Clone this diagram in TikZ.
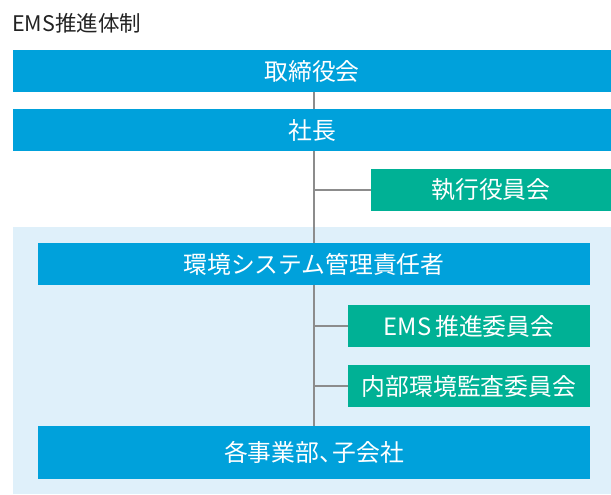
\documentclass[tikz,border=0pt]{standalone}
\usepackage{fontspec}
\setmainfont{Noto Sans CJK JP}
\definecolor{mainblue}{HTML}{00A1DB}
\definecolor{maingreen}{HTML}{00B195}
\definecolor{bgblue}{HTML}{DFF0FA}
\definecolor{linegray}{HTML}{8C8C8C}
\definecolor{titlegray}{HTML}{222222}
\tikzset{
  boxbase/.style={inner sep=0pt, text=white, font=\fontsize{23.8}{28}\selectfont, minimum height=42pt},
  bluebox/.style={boxbase, fill=mainblue},
  greenbox/.style={boxbase, fill=maingreen},
  conn/.style={draw=linegray, line width=1.5pt}
}
\begin{document}
\begin{tikzpicture}[x=1pt,y=-1pt]
\useasboundingbox (0,0) rectangle (611,495);
\fill[bgblue] (13,227) rectangle (611,494);
\node[anchor=west, text=titlegray, font=\fontsize{21.5}{26}\selectfont, inner sep=0pt] (title) at (12,23) {EMS推進体制};
\node[bluebox, minimum width=598pt] (tori) at (312,71) {取締役会};
\node[bluebox, minimum width=598pt] (shacho) at (312,130) {社長};
\node[greenbox, minimum width=240pt] (shikko) at (491,190) {執行役員会};
\node[bluebox, minimum width=552pt] (kankyo) at (314,264) {環境システム管理責任者};
\node[greenbox, minimum width=242pt] (ems) at (469,326) {EMS\,推進委員会};
\node[greenbox, minimum width=242pt] (naibu) at (469,386) {内部環境監査委員会};
\node[bluebox, minimum width=552pt, minimum height=53pt] (kaku) at (314,452.5) {各事業部、\kern-0.45em子会社};
\draw[conn] (tori.south -| kaku.north) -- (shacho.north -| kaku.north);
\draw[conn] (shacho.south -| kaku.north) -- (kankyo.north -| kaku.north);
\draw[conn] (kankyo.south -| kaku.north) -- (kaku.north);
\draw[conn] (shikko.west -| kaku.north) -- (shikko.west);
\draw[conn] (ems.west -| kaku.north) -- (ems.west);
\draw[conn] (naibu.west -| kaku.north) -- (naibu.west);
\end{tikzpicture}
\end{document}
